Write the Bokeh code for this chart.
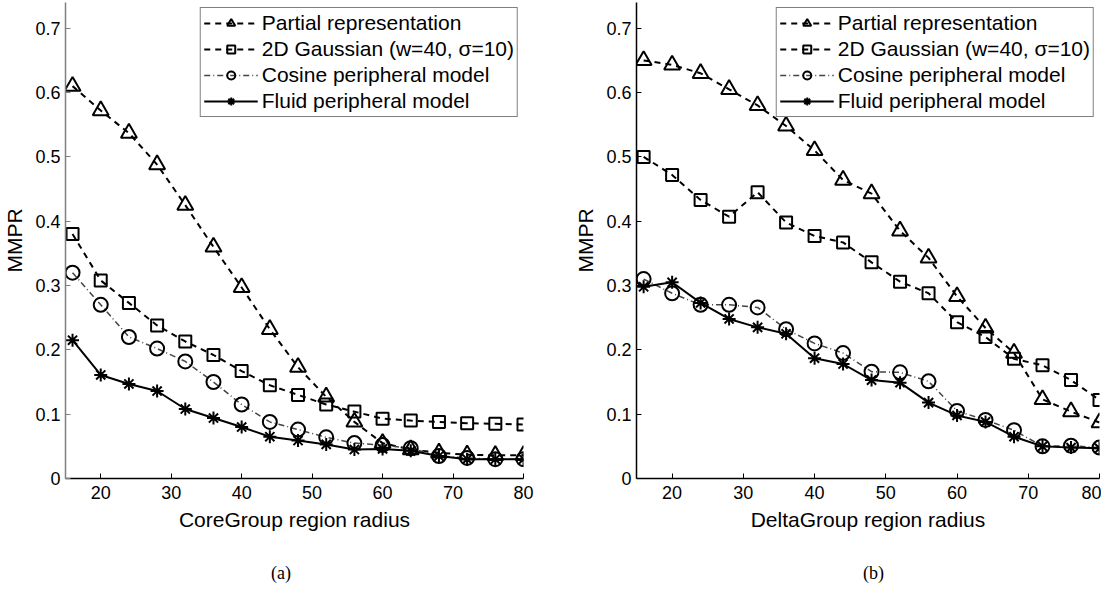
from bokeh.plotting import figure
from bokeh.layouts import row, column
from bokeh.models import Div, FixedTicker, Range1d
from bokeh.embed import file_html
from bokeh.resources import INLINE

radius = [16, 20, 24, 28, 32, 36, 40, 44, 48, 52, 56, 60, 64, 68, 72, 76, 80]

core_partial = [0.61, 0.572, 0.537, 0.488, 0.425, 0.36, 0.297, 0.232, 0.173, 0.127, 0.088, 0.055, 0.045, 0.04, 0.037, 0.036, 0.036]
core_gauss = [0.38, 0.308, 0.273, 0.238, 0.213, 0.192, 0.167, 0.145, 0.13, 0.115, 0.104, 0.093, 0.09, 0.088, 0.086, 0.085, 0.084]
core_cosine = [0.32, 0.27, 0.22, 0.202, 0.182, 0.15, 0.115, 0.088, 0.076, 0.064, 0.055, 0.052, 0.047, 0.035, 0.032, 0.03, 0.03]
core_fluid = [0.215, 0.161, 0.147, 0.136, 0.108, 0.094, 0.08, 0.065, 0.059, 0.053, 0.045, 0.046, 0.043, 0.035, 0.03, 0.03, 0.03]

delta_partial = [0.65, 0.643, 0.63, 0.605, 0.58, 0.548, 0.51, 0.464, 0.443, 0.385, 0.343, 0.283, 0.234, 0.195, 0.123, 0.104, 0.087]
delta_gauss = [0.5, 0.472, 0.433, 0.407, 0.445, 0.398, 0.377, 0.367, 0.336, 0.306, 0.288, 0.243, 0.22, 0.186, 0.176, 0.153, 0.122]
delta_cosine = [0.31, 0.288, 0.27, 0.27, 0.266, 0.232, 0.21, 0.195, 0.166, 0.165, 0.151, 0.105, 0.091, 0.075, 0.05, 0.051, 0.048]
delta_fluid = [0.298, 0.305, 0.273, 0.248, 0.235, 0.225, 0.187, 0.178, 0.153, 0.149, 0.118, 0.098, 0.088, 0.065, 0.05, 0.048, 0.047]

series_labels = ["Partial representation", "2D Gaussian (w=40, \u03c3=10)",
                 "Cosine peripheral model", "Fluid peripheral model"]
x_ticks = [20, 30, 40, 50, 60, 70, 80]
y_ticks = [0, 0.1, 0.2, 0.3, 0.4, 0.5, 0.6, 0.7]
y_tick_labels = ["0", "0.1", "0.2", "0.3", "0.4", "0.5", "0.6", "0.7"]

FONT = "Liberation Sans"


def make_panel(xlabel, ys, width, border_left, border_right, yaxis_color):
    p = figure(width=width, height=538, output_backend="svg", toolbar_location=None,
               x_range=Range1d(15, 80), y_range=Range1d(0, 0.74),
               min_border_left=border_left, min_border_right=border_right,
               min_border_top=2, min_border_bottom=60)
    p.outline_line_color = None
    p.grid.visible = False
    p.background_fill_color = "white"
    p.border_fill_color = "white"

    partial, gauss, cosine, fluid = ys
    p.line(radius, partial, line_color="black", line_width=2, line_dash="6 5",
           legend_label=series_labels[0])
    p.scatter(radius, partial, marker="triangle", size=16, fill_color=None,
              line_color="black", line_width=2, legend_label=series_labels[0])
    p.line(radius, gauss, line_color="black", line_width=2, line_dash="6 5",
           legend_label=series_labels[1])
    p.scatter(radius, gauss, marker="square", size=12, fill_color=None,
              line_color="black", line_width=2, legend_label=series_labels[1])
    p.line(radius, cosine, line_color="#444444", line_width=1.5, line_dash="6 3 1 3",
           legend_label=series_labels[2])
    p.scatter(radius, cosine, marker="circle", size=14, fill_color=None,
              line_color="black", line_width=2, legend_label=series_labels[2])
    p.line(radius, fluid, line_color="black", line_width=2,
           legend_label=series_labels[3])
    p.scatter(radius, fluid, marker="asterisk", size=13,
              line_color="black", line_width=2, legend_label=series_labels[3])

    p.xaxis.ticker = FixedTicker(ticks=x_ticks)
    p.yaxis.ticker = FixedTicker(ticks=y_ticks)
    p.yaxis.major_label_overrides = {t: s for t, s in zip(y_ticks, y_tick_labels)}
    for ax in (p.xaxis, p.yaxis):
        ax.major_tick_in = 5
        ax.major_tick_out = 0
        ax.minor_tick_line_color = None
        ax.major_label_text_font = FONT
        ax.major_label_text_font_size = "18px"
        ax.major_label_text_color = "black"
        ax.axis_label_text_font = FONT
        ax.axis_label_text_font_size = "21px"
        ax.axis_label_text_font_style = "normal"
        ax.axis_label_text_color = "black"
        ax.axis_line_width = 1.5
    p.xaxis.axis_line_color = "black"
    p.xaxis.major_tick_line_color = "black"
    p.yaxis.axis_line_color = yaxis_color
    p.yaxis.major_tick_line_color = yaxis_color
    p.xaxis.axis_label = xlabel
    p.yaxis.axis_label = "MMPR"
    p.xaxis.major_label_standoff = 7
    p.yaxis.major_label_standoff = 5
    p.xaxis.axis_label_standoff = 6
    p.yaxis.axis_label_standoff = 6

    lg = p.legend[0]
    lg.location = "top_right"
    lg.label_text_font = FONT
    lg.label_text_font_size = "21px"
    lg.label_text_color = "black"
    lg.glyph_width = 54
    lg.glyph_height = 20
    lg.label_height = 20
    lg.label_standoff = 4
    lg.spacing = 2
    lg.padding = 3
    lg.margin = 5
    lg.border_line_color = "black"
    lg.border_line_width = 1.2
    lg.background_fill_color = "white"
    lg.background_fill_alpha = 1.0
    return p


p1 = make_panel("CoreGroup region radius", (core_partial, core_gauss, core_cosine, core_fluid),
                552, 60, 29, "#808080")
p2 = make_panel("DeltaGroup region radius", (delta_partial, delta_gauss, delta_cosine, delta_fluid),
                549, 84, 2, "black")

cap_style = {"font-family": "Liberation Serif", "font-size": "18px", "text-align": "center",
             "width": "100%", "color": "black"}
d1 = Div(text="(a)", width=552, height=52, styles={**cap_style, "padding-top": "18px"})
d2 = Div(text="(b)", width=549, height=52, styles={**cap_style, "padding-top": "18px", "padding-left": "84px"})

layout = row(column(p1, d1, spacing=0), column(p2, d2, spacing=0), spacing=0)

open("out.html", "w").write(file_html(layout, INLINE))
